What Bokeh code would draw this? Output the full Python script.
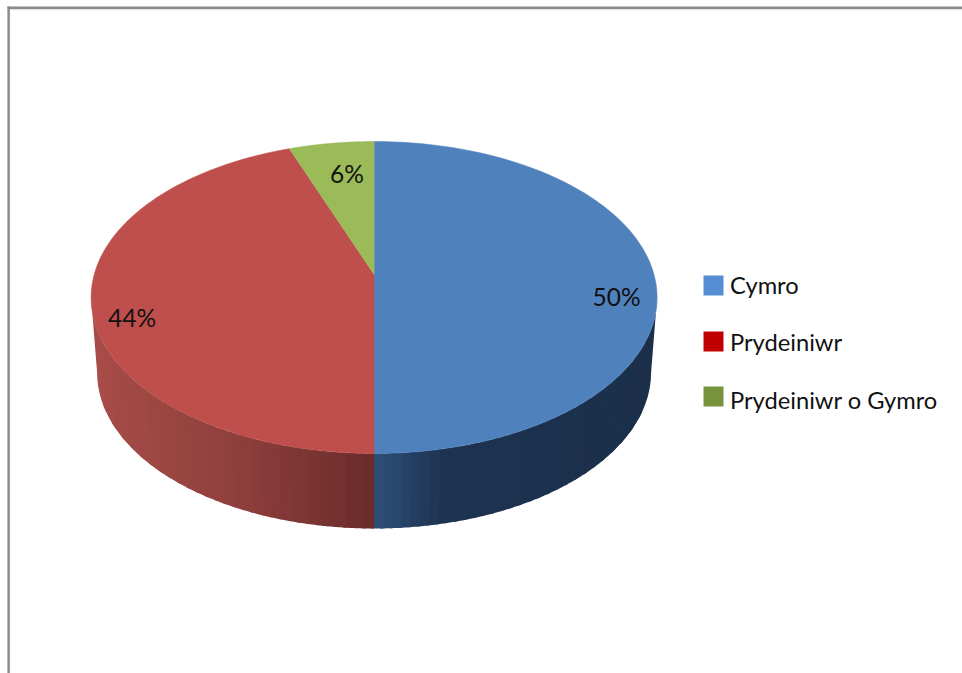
import math
from bokeh.plotting import figure
from bokeh.models import Range1d
from bokeh.core.properties import value
from bokeh.embed import file_html
from bokeh.resources import INLINE

categories = ["Cymro", "Prydeiniwr", "Prydeiniwr o Gymro"]
shares = [50.0, 44.4, 5.6]

top_colors = ["#4F81BD", "#BE4F4C", "#9BBB59"]
legend_colors = ["#558ED5", "#C00000", "#77933C"]
# wall colour, from the seam at the front of the disc outwards
wall_ramps = [
    [(0.0, "#2F4F78"), (0.25, "#1D3350"), (1.0, "#1B2F4A")],
    [(0.0, "#692B29"), (0.5, "#8F403D"), (1.0, "#A84C48")],
    [(0.0, "#5A7030"), (1.0, "#7A9A3E")],
]

# layout of the drawing, in page pixels
W, H = 962, 673
CX, CY, RX, RY = 373.6, 297.0, 283.0, 156.0
BCY, BRX, BRY = 372.0, 277.0, 156.0
TILT = 23.0 / RY            # the apex sits above the ellipse centre
label_pos = [(616, 295.5), (131.5, 316.5), (346.5, 172.5)]
legend_box_y = [285, 341, 396]
legend_text_y = [284.5, 341.5, 399.5]

p = figure(width=W, height=H, output_backend="svg", toolbar_location=None,
           x_range=Range1d(0, W), y_range=Range1d(H, 0),
           min_border=0, outline_line_color=None, background_fill_color="white")
p.axis.visible = False
p.grid.visible = False


def hexrgb(h):
    return tuple(int(h[i:i + 2], 16) for i in (1, 3, 5))


def ramp(stops, u):
    for (u0, c0), (u1, c1) in zip(stops, stops[1:]):
        if u <= u1:
            f = (u - u0) / (u1 - u0)
            a, b = hexrgb(c0), hexrgb(c1)
            return "#%02x%02x%02x" % tuple(round(x + (y - x) * f) for x, y in zip(a, b))
    return stops[-1][1]


def project(theta):
    """Turn a pie angle (clockwise from the top) into an ellipse parameter."""
    s, c = math.sin(theta), math.cos(theta)
    d = 1 + TILT * c
    return math.atan2(s * math.sqrt(1 - TILT ** 2) / d, (c + TILT) / d) % (2 * math.pi)


total = sum(shares)
edges = [0.0]
for s in shares:
    edges.append(edges[-1] + s / total * 2 * math.pi)
t_edges = [project(e) for e in edges[:-1]] + [2 * math.pi]

# side walls, visible only on the front half of the disc
STRIPS = 30
wall_xs, wall_ys, wall_cols = [], [], []
for i in range(len(shares)):
    lo, hi = max(t_edges[i], math.pi / 2), min(t_edges[i + 1], 3 * math.pi / 2)
    if hi <= lo:
        continue
    sa, sb = math.sin(lo), math.sin(hi)
    # strips of equal width on the page, painted from one end to the other,
    # each reaching a little under the next so that no seam shows
    for k in range(STRIPS):
        f0 = k / STRIPS
        f1 = (k + 1.35) / STRIPS
        ta = math.pi - math.asin(max(-1, min(1, sa + (sb - sa) * f0)))
        tb = math.pi - math.asin(max(-1, min(1, sa + (sb - sa) * f1)))
        ts = [ta + (tb - ta) * j / 6 for j in range(7)]
        wall_xs.append([CX + RX * math.sin(t) for t in ts] + [CX + BRX * math.sin(t) for t in reversed(ts)])
        wall_ys.append([CY - RY * math.cos(t) for t in ts] + [BCY - BRY * math.cos(t) for t in reversed(ts)])
        mid = abs(sa + (sb - sa) * (k + 0.5) / STRIPS)
        wall_cols.append(ramp(wall_ramps[i], mid))
p.patches(wall_xs, wall_ys, fill_color=wall_cols, line_color=None)

# top face
apex_y = CY - RY * TILT
face_xs, face_ys = [], []
for i in range(len(shares)):
    n = 90
    ts = [t_edges[i] + (t_edges[i + 1] - t_edges[i]) * j / n for j in range(n + 1)]
    face_xs.append([CX] + [CX + RX * math.sin(t) for t in ts])
    face_ys.append([apex_y] + [CY - RY * math.cos(t) for t in ts])
p.patches(face_xs, face_ys, fill_color=top_colors, line_color=top_colors, line_width=0.5)

labels = [f"{round(s)}%" for s in shares]
p.text([q[0] for q in label_pos], [q[1] for q in label_pos], text=labels,
       text_font=value("Lato"), text_font_size="24.5px", text_color="#111111",
       text_align="center", text_baseline="middle")

# legend
p.rect([713] * 3, legend_box_y, width=20, height=20, fill_color=legend_colors, line_color=None)
p.text([729.5] * 3, legend_text_y, text=categories, text_font=value("Lato"),
       text_font_size="23.7px", text_color="#111111", text_align="left", text_baseline="middle")

# frame, seen on the top and left only
p.line([8, W], [9, 9], line_color="#E4E4E4", line_width=1.5)
p.line([9, 9], [8, H], line_color="#E4E4E4", line_width=1.5)
p.line([7, W], [7.3, 7.3], line_color="#8A8A8A", line_width=2.4)
p.line([8.1, 8.1], [6, H], line_color="#8A8A8A", line_width=2.4)

open("out.html", "w").write(file_html(p, INLINE))
